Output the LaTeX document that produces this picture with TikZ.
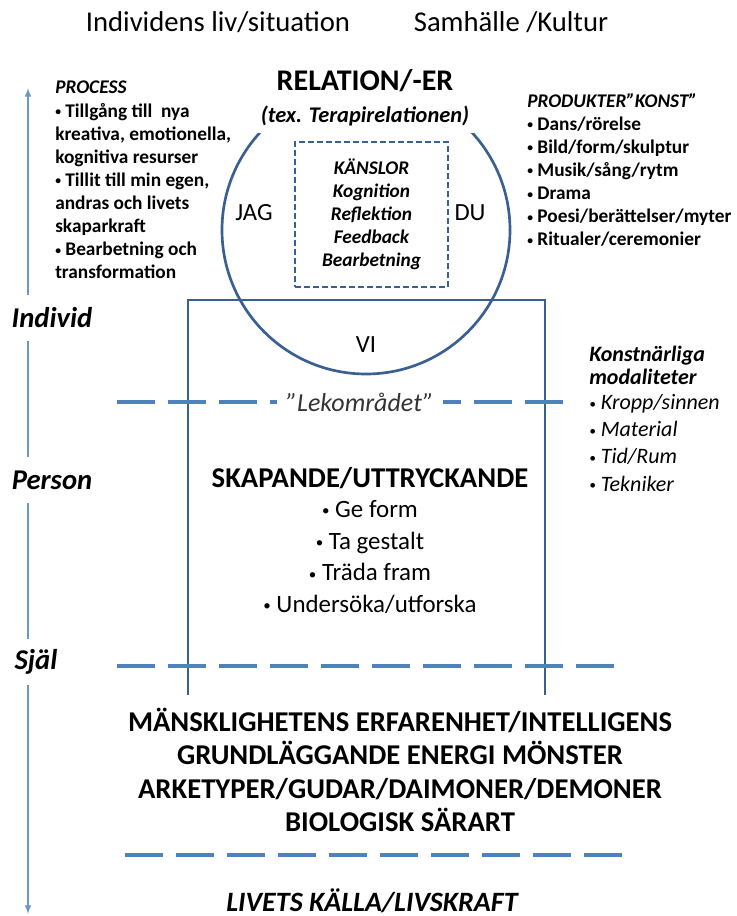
\documentclass[tikz,border=0pt]{standalone}
\usepackage{fontspec}
\setmainfont{Carlito}
\usetikzlibrary{positioning}
\definecolor{RingBlue}{RGB}{58,95,145}
\definecolor{DashBlue}{RGB}{79,129,189}
\definecolor{AxisBlue}{RGB}{110,150,205}
\newcommand{\bul}{\raisebox{0.15ex}{\scalebox{0.6}{•}}}
\begin{document}
\begin{tikzpicture}[x=0.75pt,y=-0.75pt,>=latex,
    lvl/.style={font=\fontsize{21.5}{24}\selectfont\bfseries\itshape,fill=white,inner sep=4pt,minimum height=35pt},
    dashline/.style={draw=DashBlue,line width=3pt,dash pattern=on 28.5pt off 9.75pt},
    listblk/.style={align=left,anchor=north west,inner sep=0pt,font=\fontsize{14.5}{17.3}\selectfont\bfseries},
    ring/.style={draw=RingBlue,line width=2pt},
    pname/.style={font=\fontsize{18.5}{22}\selectfont}]
  \useasboundingbox[fill=white] (0,0) rectangle (737,916);
  % headings
  \node[font=\fontsize{21.5}{24}\selectfont] (indliv) at (218,22) {Individens liv/situation};
  \node[font=\fontsize{21.5}{24}\selectfont] (samh) at (511,22) {Samhälle /Kultur};
  % axis
  \coordinate (axtop) at (28,88);
  \coordinate (axbot) at (28,914);
  \draw[<->,AxisBlue,line width=1.2pt] (axbot) -- (axtop);
  \node[lvl] (individ) at (52,318) {Individ};
  \node[lvl] (person) at (52,480) {Person};
  \node[lvl] (sjal) at (36,662) {Själ};
  % relation and frame
  \draw[ring] (366,230) circle (144);
  \draw[ring] (188,695) -- (188,300) -- (545,300) -- (545,695);
  \node[fill=white,minimum width=171pt,minimum height=28.5pt,inner sep=0pt,
        font=\fontsize{22.5}{26}\selectfont\bfseries] (rel) at (365,81) {RELATION/-ER};
  \node[fill=white,minimum width=171pt,minimum height=25.5pt,inner sep=0pt,below=-1.5pt of rel,
        font=\fontsize{16.8}{20}\selectfont\bfseries\itshape] (relsub) {(tex. Terapirelationen)};
  \node[draw=RingBlue,line width=2pt,dash pattern=on 4.5pt off 2.25pt,minimum width=114.75pt,minimum height=108.75pt,
        align=center,font=\fontsize{14.5}{17.3}\selectfont\bfseries\itshape] (kansl) at (371.5,214.5)
    {KÄNSLOR\\ Kognition\\ Reflektion\\ Feedback\\ Bearbetning};
  \node[pname] (jag) at (254,213) {JAG};
  \node[pname] (du) at (470,213) {DU};
  \node[pname] (vi) at (366,345) {VI};
  % side lists
  \node[listblk] (proc) at (55,81)
    {\textit{PROCESS}\\ \bul\ Tillgång till\ \ nya\\ kreativa, emotionella,\\ kognitiva resurser\\
     \bul\ Tillit till min egen,\\ andras och livets\\ skaparkraft\\ \bul\ Bearbetning och\\ transformation};
  \node[listblk] (prod) at (527,93)
    {\textit{PRODUKTER”KONST”}\\ \bul\ Dans/rörelse\\ \bul\ Bild/form/skulptur\\ \bul\ Musik/sång/rytm\\
     \bul\ Drama\\ \bul\ Poesi/berättelser/myter\\ \bul\ Ritualer/ceremonier};
  \node[listblk,font=\fontsize{16.5}{17.3}\selectfont\itshape] (modal) at (589,346)
    {\textbf{Konstnärliga}\\ \textbf{modaliteter}\\[1.5pt] \bul\ Kropp/sinnen\\[3pt] \bul\ Material\\[3pt] \bul\ Tid/Rum\\[3pt] \bul\ Tekniker};
  % play zone
  \draw[dashline] (117,402) -- (573,402);
  \node[fill=white,font=\fontsize{19.5}{22}\selectfont\itshape,text=black!80,inner sep=2pt,minimum width=124.5pt] (lek) at (360,402) {”Lekområdet”};
  \node[font=\fontsize{21.5}{25}\selectfont\bfseries] (skap) at (370,478) {SKAPANDE/UTTRYCKANDE};
  \node[align=center,font=\fontsize{18.7}{23.8}\selectfont] (uttr) at (370,557)
    {\bul\ Ge form\\ \bul\ Ta gestalt\\ \bul\ Träda fram\\ \bul\ Undersöka/utforska};
  % soul
  \draw[dashline] (117,666) -- (615,666);
  \node[align=center,font=\fontsize{21.5}{25}\selectfont\bfseries] (manskl) at (400,770)
    {MÄNSKLIGHETENS ERFARENHET/INTELLIGENS\\ GRUNDLÄGGANDE ENERGI MÖNSTER\\
     ARKETYPER/GUDAR/DAIMONER/DEMONER\\ BIOLOGISK SÄRART};
  \draw[dashline] (125,855) -- (625,855);
  \node[anchor=base,font=\fontsize{21}{24}\selectfont\bfseries\itshape] (kalla) at (372,911) {LIVETS KÄLLA/LIVSKRAFT};
\end{tikzpicture}
\end{document}
